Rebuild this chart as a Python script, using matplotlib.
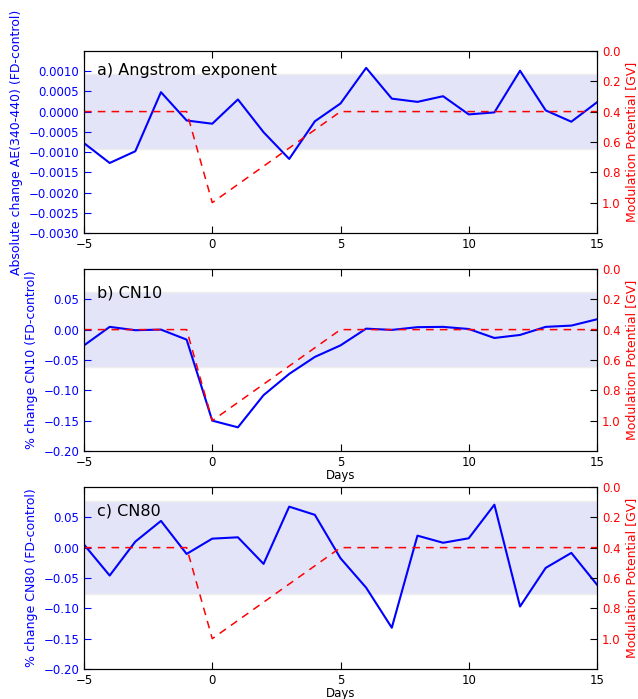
import numpy as np
import matplotlib
matplotlib.use('agg')
from matplotlib import pyplot as plt
from matplotlib.ticker import FuncFormatter

days = list(range(-5, 16))

# blue series, one value per day from -5 to 15
ae_change = [-0.00078, -0.00127, -0.00098, 0.00048, -0.00022, -0.00030, 0.00030,
             -0.00051, -0.00117, -0.00024, 0.00020, 0.00108, 0.00032, 0.00024,
             0.00038, -0.00007, -0.00002, 0.00101, 0.00003, -0.00025, 0.00023]
cn10_change = [-0.026, 0.0045, -0.001, 0.000, -0.0165, -0.150, -0.161, -0.108,
               -0.073, -0.045, -0.026, 0.0016, -0.0005, 0.004, 0.0045, 0.001,
               -0.0138, -0.0088, 0.0045, 0.0066, 0.017]
cn80_change = [0.005, -0.046, 0.0099, 0.044, -0.0104, 0.0148, 0.017, -0.0268,
               0.0675, 0.054, -0.0175, -0.066, -0.132, 0.0197, 0.008, 0.0154,
               0.0707, -0.097, -0.0334, -0.0087, -0.061]

# modulation potential (red dashed)
mod_days = [-5, -1, 0, 5, 15]
mod_pot = [0.4, 0.4, 1.0, 0.4, 0.4]

# half width of the shaded band
band = [0.00093, 0.062, 0.077]

titles = ['a) Angstrom exponent', 'b) CN10', 'c) CN80']
ylabels = ['Absolute change AE(340-440) (FD-control)',
           '% change CN10 (FD-control)',
           '% change CN80 (FD-control)']
series = [ae_change, cn10_change, cn80_change]
ylims = [(-0.003, 0.0015), (-0.2, 0.1), (-0.2, 0.1)]
yticks = [[-0.003, -0.0025, -0.002, -0.0015, -0.001, -0.0005, 0.0, 0.0005, 0.001],
          [-0.2, -0.15, -0.1, -0.05, 0.0, 0.05],
          [-0.2, -0.15, -0.1, -0.05, 0.0, 0.05]]
decimals = [4, 2, 2]
bottoms = [0.6667, 0.3548, 0.0429]
xlabels = [None, 'Days', 'Days']
text_y = [0.89, 0.87, 0.87]


def fmt_factory(nd):
    def _fmt(v, pos):
        s = f'{round(v, nd) + 0.0:.{nd}f}'
        return s.replace('-', '\u2212')
    return _fmt


fig = plt.figure(figsize=(6.38, 6.99), dpi=100)

for i in range(3):
    ax = fig.add_axes([0.1317, bottoms[i], 0.804, 0.2605])
    ax.axhspan(-band[i], band[i], facecolor='#e4e4f9', edgecolor='#eeeeee', lw=1)
    ax.plot(days, series[i], color='blue', lw=1.5, zorder=3)
    ax.set_xlim(-5, 15)
    ax.set_ylim(*ylims[i])
    ax.set_xticks([-5, 0, 5, 10, 15])
    ax.set_yticks(yticks[i])
    ax.yaxis.set_major_formatter(FuncFormatter(fmt_factory(decimals[i])))
    ax.tick_params(direction='in', length=5, top=True, labelsize=8.5)
    ax.tick_params(axis='y', colors='blue', labelcolor='blue')
    ax.set_ylabel(ylabels[i], color='blue', fontsize=9, labelpad=4)
    if xlabels[i]:
        ax.set_xlabel(xlabels[i], fontsize=8.5, labelpad=0)
    ax.text(0.025, text_y[i], titles[i], transform=ax.transAxes,
            fontsize=11.5, va='center', zorder=5)

    ax2 = ax.twinx()
    ax2.plot(mod_days, mod_pot, color='red', ls='--', lw=1.1, dashes=(5, 4))
    ax2.set_ylim(1.2, 0)
    ax2.set_yticks([0.0, 0.2, 0.4, 0.6, 0.8, 1.0])
    ax2.yaxis.set_major_formatter(FuncFormatter(fmt_factory(1)))
    ax2.tick_params(direction='in', length=5, labelsize=8.5, labelcolor='red')
    ax2.set_ylabel('Modulation Potential [GV]', color='red', fontsize=9, labelpad=3)
    ax2.set_xlim(-5, 15)

plt.savefig('out.png', dpi=100)
plt.close()
